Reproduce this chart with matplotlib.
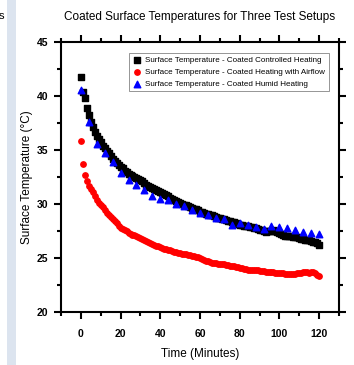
import matplotlib
matplotlib.use("Agg")
import matplotlib.pyplot as plt
import numpy as np
from matplotlib.ticker import MultipleLocator

# donnees
t_black = np.arange(0, 121)
black = [41.8, 40.4, 39.8, 38.9, 38.2, 37.6, 37.1, 36.7, 36.3, 36.0,
         35.7, 35.4, 35.2, 34.9, 34.7, 34.4, 34.2, 34.0, 33.8, 33.6,
         33.4, 33.3, 33.1, 33.0, 32.8, 32.7, 32.6, 32.5, 32.4, 32.3,
         32.2, 32.1, 31.9, 31.8, 31.7, 31.6, 31.5, 31.4, 31.3, 31.2,
         31.1, 31.0, 30.9, 30.8, 30.7, 30.6, 30.5, 30.4, 30.3, 30.2,
         30.1, 30.0, 29.95, 29.9, 29.8, 29.7, 29.6, 29.55, 29.5, 29.4,
         29.3, 29.25, 29.2, 29.1, 29.05, 29.0, 28.95, 28.9, 28.8, 28.75,
         28.7, 28.65, 28.6, 28.5, 28.45, 28.4, 28.35, 28.3, 28.2, 28.15,
         28.1, 28.05, 28.0, 27.95, 27.95, 27.9, 27.85, 27.8, 27.75, 27.7,
         27.6, 27.55, 27.5, 27.45, 27.5, 27.5, 27.5, 27.55, 27.5, 27.4,
         27.3, 27.2, 27.1, 27.05, 27.0, 27.0, 27.0, 26.95, 26.9, 26.9,
         26.85, 26.8, 26.75, 26.7, 26.7, 26.65, 26.6, 26.5, 26.45, 26.4,
         26.2]

t_red = np.arange(0, 121)
red = [35.8, 33.7, 32.7, 32.1, 31.7, 31.4, 31.1, 30.7, 30.4, 30.1,
       29.9, 29.7, 29.4, 29.2, 29.0, 28.8, 28.6, 28.4, 28.2, 28.0,
       27.8, 27.7, 27.6, 27.5, 27.3, 27.2, 27.15, 27.1, 27.0, 26.9,
       26.85, 26.8, 26.7, 26.6, 26.5, 26.4, 26.3, 26.2, 26.15, 26.1,
       26.0, 25.9, 25.85, 25.8, 25.75, 25.7, 25.65, 25.6, 25.55, 25.5,
       25.45, 25.4, 25.35, 25.35, 25.3, 25.25, 25.2, 25.15, 25.1, 25.05,
       25.0, 24.9, 24.85, 24.75, 24.7, 24.6, 24.55, 24.5, 24.5, 24.45,
       24.45, 24.45, 24.4, 24.35, 24.35, 24.3, 24.3, 24.25, 24.2, 24.15,
       24.1, 24.05, 24.0, 23.95, 23.9, 23.9, 23.9, 23.85, 23.85, 23.85,
       23.8, 23.8, 23.8, 23.75, 23.75, 23.7, 23.7, 23.7, 23.65, 23.65,
       23.6, 23.6, 23.6, 23.55, 23.55, 23.5, 23.5, 23.5, 23.55, 23.6,
       23.6, 23.65, 23.7, 23.7, 23.7, 23.65, 23.7, 23.7, 23.6, 23.4,
       23.3]

t_blue = np.arange(0, 121, 4)
blue = [40.6, 37.6, 35.6, 34.7, 33.9, 32.9, 32.2, 31.75, 31.3, 30.75,
        30.5, 30.35, 30.0, 29.8, 29.45, 29.15, 29.0, 28.7, 28.6, 28.05,
        28.25, 28.1, 27.9, 27.7, 28.0, 27.85, 27.75, 27.6, 27.4, 27.3,
        27.2]

labels = ["Surface Temperature - Coated Controlled Heating",
          "Surface Temperature - Coated Heating with Airflow",
          "Surface Temperature - Coated Humid Heating"]

plt.rcParams['font.family'] = ['Liberation Sans', 'DejaVu Sans']

fig = plt.figure(figsize=(3.54, 3.65), dpi=100)
# bande a gauche (capture d'ecran)
fig.patches.append(plt.Rectangle((7 / 354, 0), 9 / 354, 1, transform=fig.transFigure,
                                 facecolor='#dce4ef', edgecolor='none', zorder=0))
fig.text(-0.004, 0.955, "s", fontsize=8, ha='left', va='center')

ax = fig.add_axes([61 / 354, 53 / 365, 278 / 354, 270 / 365])
ax.scatter(t_black, black, marker='s', s=13, color='black', label=labels[0], zorder=3)
ax.scatter(t_red, red, marker='o', s=15, color='red', label=labels[1], zorder=2)
ax.scatter(t_blue, blue, marker='^', s=22, color='blue', label=labels[2], zorder=4)

ax.set_xlim(-10, 130)
ax.set_ylim(20, 45)
ax.xaxis.set_major_locator(MultipleLocator(20))
ax.xaxis.set_minor_locator(MultipleLocator(10))
ax.yaxis.set_major_locator(MultipleLocator(5))
ax.yaxis.set_minor_locator(MultipleLocator(2.5))
ax.set_xticks([0, 20, 40, 60, 80, 100, 120])
ax.tick_params(which='both', direction='out', top=True, right=True, width=1.5)
ax.tick_params(which='major', length=5)
ax.tick_params(axis='x', which='major', pad=7)
ax.tick_params(axis='y', which='major', pad=4)
ax.tick_params(which='minor', length=3)
ax.tick_params(labeltop=False, labelright=False)
for lab in ax.get_xticklabels() + ax.get_yticklabels():
    lab.set_family(['Liberation Sans Narrow', 'Liberation Sans'])
    lab.set_fontsize(7.5)
    lab.set_fontweight('bold')
for sp in ax.spines.values():
    sp.set_linewidth(1.5)

ax.set_title("Coated Surface Temperatures for Three Test Setups", fontsize=8.5, pad=16)
ax.set_xlabel("Time (Minutes)", fontsize=8.5, labelpad=7)
ax.set_ylabel("Surface Temperature (°C)", fontsize=8.5, labelpad=3)

leg = ax.legend(loc='upper right', bbox_to_anchor=(0.964, 0.959), borderaxespad=0,
                fontsize=5.8, frameon=True, fancybox=False, handletextpad=0.6,
                borderpad=0.45, labelspacing=0.5, handlelength=1.0, scatterpoints=1)
leg.get_frame().set_edgecolor('#666666')
leg.get_frame().set_linewidth(0.6)

fig.savefig("out.png", dpi=100)
